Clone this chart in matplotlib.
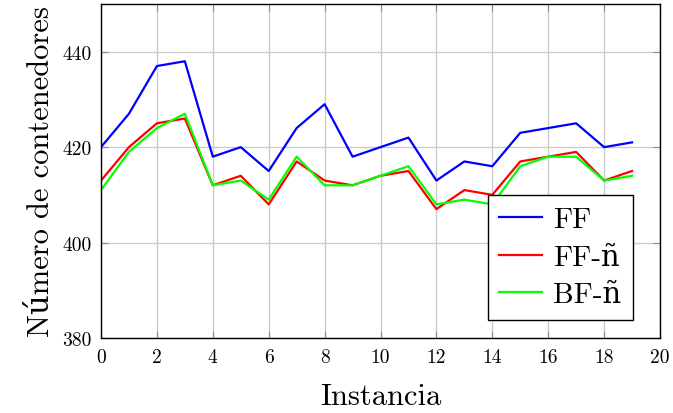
import matplotlib
matplotlib.use("Agg")
import matplotlib.pyplot as plt

plt.rcParams["font.family"] = ["cmr10", "DejaVu Serif"]
plt.rcParams["mathtext.fontset"] = "cm"
plt.rcParams["axes.unicode_minus"] = False

instancias = list(range(20))
ff = [420, 427, 437, 438, 418, 420, 415, 424, 429, 418,
      420, 422, 413, 417, 416, 423, 424, 425, 420, 421]
ff_n = [413, 420, 425, 426, 412, 414, 408, 417, 413, 412,
        414, 415, 407, 411, 410, 417, 418, 419, 413, 415]
bf_n = [411, 419, 424, 427, 412, 413, 409, 418, 412, 412,
        414, 416, 408, 409, 408, 416, 418, 418, 413, 414]

series = [("FF", ff, "#0000ff"), ("FF-ñ", ff_n, "#ff0000"), ("BF-ñ", bf_n, "#00ff00")]

fig = plt.figure(figsize=(6.73, 4.14), dpi=100)
ax = fig.add_axes([101 / 673, 1 - 339 / 414, 559 / 673, 334 / 414])

for name, ys, color in series:
    ax.plot(instancias, ys, color=color, lw=1.6, label=name)

ax.set_xlim(0, 20)
ax.set_ylim(380, 450)
ax.set_xticks(range(0, 21, 2))
ax.set_yticks([380, 400, 420, 440])
ax.grid(True, color="#cccccc", lw=1.0)
ax.set_axisbelow(True)
ax.tick_params(direction="in", length=5, labelsize=14, color="#888888", pad=7,
               top=True, right=True)
for s in ax.spines.values():
    s.set_linewidth(1.0)

ax.set_xlabel("Instancia", fontsize=22, labelpad=12)
ax.set_ylabel("Número de contenedores", fontsize=22, labelpad=5)

leg = ax.legend(loc="lower right", bbox_to_anchor=(532 / 559, 18 / 334),
                fontsize=21, handlelength=1.45, handletextpad=0.4,
                fancybox=False, framealpha=1, edgecolor="black",
                borderpad=0.4, labelspacing=0.38, borderaxespad=0)
leg.get_frame().set_linewidth(1.0)

fig.savefig("out.png", dpi=100)
